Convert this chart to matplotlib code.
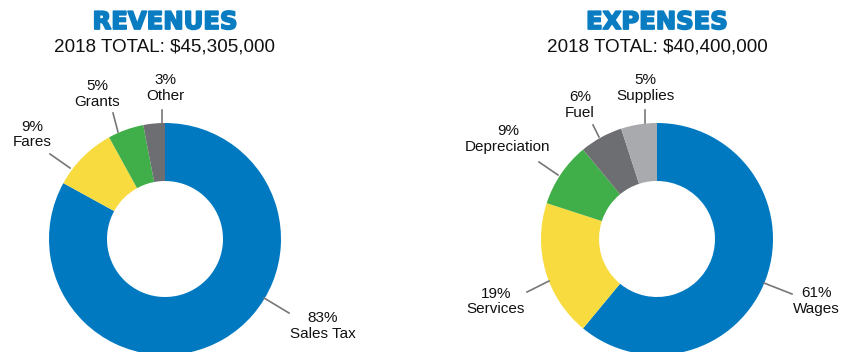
import numpy as np
import matplotlib.pyplot as plt
import matplotlib.patheffects as pe

# data
rev_labels = ['Sales Tax', 'Fares', 'Grants', 'Other']
rev_pct = [83, 9, 5, 3]
exp_labels = ['Wages', 'Services', 'Depreciation', 'Fuel', 'Supplies']
exp_pct = [61, 19, 9, 6, 5]
titles = ['REVENUES', 'EXPENSES']
totals = ['2018 TOTAL: $45,305,000', '2018 TOTAL: $40,400,000']

blue = '#0079c1'
rev_colors = [blue, '#f8dc3f', '#40ae49', '#6d6e71']
exp_colors = [blue, '#f8dc3f', '#40ae49', '#6d6e71', '#a9aaad']

W, H = 842, 352
fig = plt.figure(figsize=(W/100., H/100.), dpi=100)
ax = fig.add_axes([0, 0, 1, 1])

R = 116
centers = [(165, H-239), (657, H-239)]

# layout of labels (pixel coords, top origin): text center, leader line start/end
rev_txt = [(323, 326), (32, 134.5), (97, 94), (165, 88)]
rev_ln = [((264, 298), (289, 313)), ((70, 168), (50, 154)), ((118, 132), (113, 113)), ((162, 123), (162, 110))]
exp_txt = [(816, 301), (496, 301.5), (508, 139), (580, 105), (645, 88)]
exp_ln = [((764, 283), (792, 294)), ((549, 281), (527, 292)), ((558, 175), (539, 162)), ((599, 137), (593, 125)), ((645, 123), (645, 110))]

sets = [(rev_labels, rev_pct, rev_colors, rev_txt, rev_ln),
        (exp_labels, exp_pct, exp_colors, exp_txt, exp_ln)]

for i, (labs, vals, cols, txt, ln) in enumerate(sets):
    ax.pie(vals, colors=cols, startangle=90, counterclock=False,
           center=centers[i], radius=R,
           wedgeprops=dict(width=R*0.5, linewidth=0))
    cx = centers[i][0]
    ax.text(cx, H-22, titles[i], ha='center', va='center', color='#0a7dc2',
            fontsize=17.5, fontweight='bold', family='DejaVu Sans',
            path_effects=[pe.withStroke(linewidth=1.3, foreground='#0a7dc2')])
    ax.text(cx, H-47.5, totals[i], ha='center', va='center', color='#111111',
            fontsize=13.6, family='Liberation Sans')
    for lab, v, (tx, ty), (p0, p1) in zip(labs, vals, txt, ln):
        ax.text(tx, H-ty, '%d%%\n%s' % (v, lab), ha='center', va='center',
                fontsize=11, family='Liberation Sans', color='#111111',
                linespacing=1.12)
        ax.plot([p0[0], p1[0]], [H-p0[1], H-p1[1]], color='#777777', lw=1.2)

ax.set_xlim(0, W)
ax.set_ylim(0, H)
ax.set_aspect('auto')
ax.axis('off')

plt.savefig('out.png', dpi=100)
